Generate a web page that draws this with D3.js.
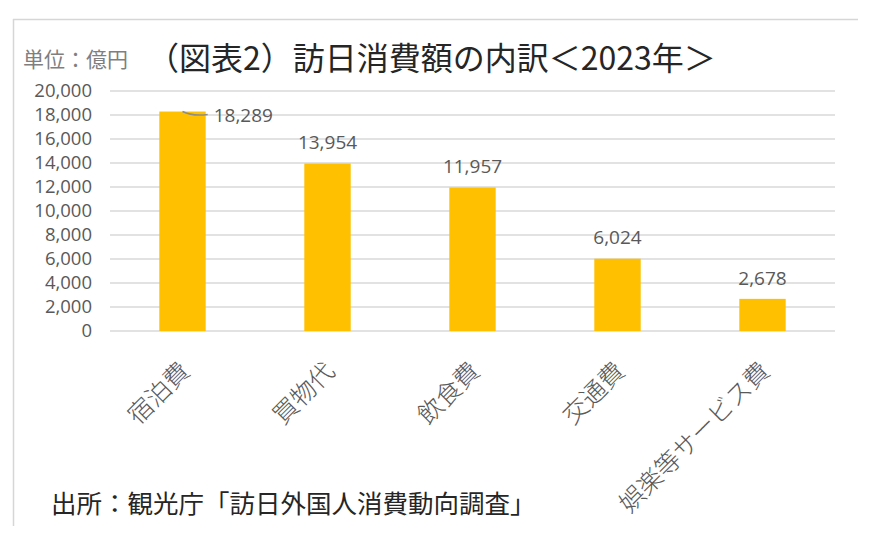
<!DOCTYPE html>
<html><head><meta charset="utf-8">
<script src="https://cdn.jsdelivr.net/npm/d3@7"></script>
<style>body{margin:0;background:#fff;} svg{display:block;}</style>
</head><body>
<script>
const categories = ["宿泊費","買物代","飲食費","交通費","娯楽等サービス費"];
const values = [18289, 13954, 11957, 6024, 2678];
const yTicks = [0,2000,4000,6000,8000,10000,12000,14000,16000,18000,20000];
const titleText = "（図表2）訪日消費額の内訳＜2023年＞";
const unitText = "単位：億円";
const sourceText = "出所：観光庁「訪日外国人消費動向調査」";

const W = 876, H = 540;
const jp = "'Noto Sans CJK JP', 'Noto Sans', sans-serif";
const num = "'Open Sans', 'Noto Sans', sans-serif";
const svg = d3.select("body").append("svg").attr("width", W).attr("height", H);

// frame
svg.append("line").attr("x1",13).attr("x2",858).attr("y1",19.5).attr("y2",19.5).attr("stroke","#d6d6d6").attr("stroke-width",1.5);
svg.append("line").attr("x1",13.5).attr("x2",13.5).attr("y1",19).attr("y2",526).attr("stroke","#d6d6d6").attr("stroke-width",1.5);

const x = d3.scaleBand().domain(categories).range([110, 835]).paddingInner(0.68).paddingOuter(0.34);
const y = d3.scaleLinear().domain([0, 20000]).range([331, 91]);

// grid
svg.append("g").selectAll("line").data(yTicks).join("line")
  .attr("x1",110).attr("x2",835).attr("y1",d=>y(d)).attr("y2",d=>y(d))
  .attr("stroke","#d9d9d9").attr("stroke-width",1.5);

// y axis labels
const yAxis = d3.axisLeft(y).tickValues(yTicks).tickSize(0).tickPadding(0).tickFormat(d3.format(","));
const ya = svg.append("g").attr("transform","translate(92,0)").call(yAxis);
ya.select(".domain").remove();
ya.selectAll("text").attr("font-family",num).attr("font-size",18.5).attr("fill","#595959");

// bars
svg.append("g").selectAll("rect").data(values).join("rect")
  .attr("x",(d,i)=>x(categories[i])).attr("width",x.bandwidth())
  .attr("y",d=>y(d)).attr("height",d=>y(0)-y(d)).attr("fill","#FFC000");

// data labels
const fmt = d3.format(",");
svg.append("g").selectAll("text").data(values).join("text")
  .attr("x",(d,i)=> i===0 ? x(categories[i])+x.bandwidth()+8 : x(categories[i])+x.bandwidth()/2)
  .attr("y",(d,i)=> i===0 ? y(d)+4 : y(d)-21)
  .attr("dy","0.35em")
  .attr("text-anchor",(d,i)=> i===0 ? "start" : "middle")
  .attr("font-family",num).attr("font-size",19).attr("fill","#595959")
  .text(d=>fmt(d));

// leader line for first label
const cx0 = x(categories[0]) + x.bandwidth()/2, top0 = y(values[0]);
svg.append("path")
  .attr("d", `M${cx0},${top0} Q${cx0+10},${top0+5} ${x(categories[0])+x.bandwidth()+2},${top0+3}`)
  .attr("fill","none").attr("stroke","#8c8c8c").attr("stroke-width",1.5);

// category labels
svg.append("g").selectAll("text").data(categories).join("text")
  .attr("transform",d=>`translate(${x(d)+x.bandwidth()/2+1},365) rotate(-45)`)
  .attr("text-anchor","end").attr("dominant-baseline","central")
  .attr("font-family",jp).attr("font-weight",300).attr("font-size",25).attr("fill","#595959")
  .text(d=>d);

// title & unit
svg.append("text").attr("x",23).attr("y",58).attr("dominant-baseline","central")
  .attr("font-family",jp).attr("font-size",21).attr("fill","#7f7f7f").text(unitText);
svg.append("text").attr("x",147).attr("y",56).attr("dominant-baseline","central")
  .attr("font-family",jp).attr("font-size",32).attr("fill","#262626").text(titleText);

// source
svg.append("text").attr("x",51).attr("y",501).attr("dominant-baseline","central")
  .attr("font-family",jp).attr("font-size",25.5).attr("fill","#262626").text(sourceText);
</script>
</body></html>
